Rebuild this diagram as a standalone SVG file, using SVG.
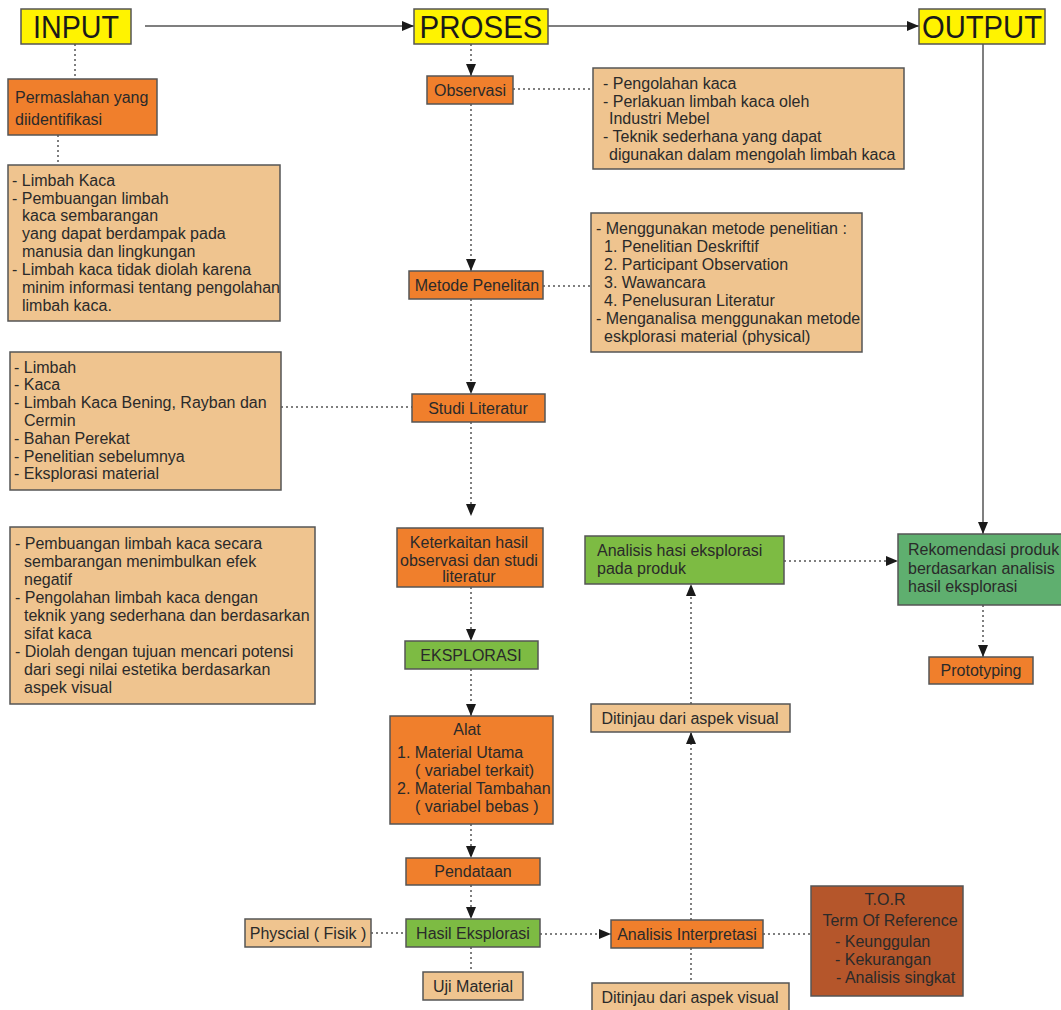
<svg xmlns="http://www.w3.org/2000/svg" width="1061" height="1010" viewBox="0 0 1061 1010">
<style>
  text { font-family: "Liberation Sans", Arial, sans-serif; font-size: 16px; fill: #2a2a2a; }
  .hdr { font-size: 32px; fill: #1a1a1a; }
  .bx { stroke: #555; stroke-width: 1.5; }
  .yel { fill: #FFF300; }
  .org { fill: #F07F2C; }
  .tan { fill: #EFC48F; }
  .grn { fill: #7DBB43; }
  .grn2 { fill: #5FAF6F; }
  .tor { fill: #B5562B; }
  .solid { stroke: #555; stroke-width: 1.5; fill: none; }
  .dot { stroke: #555; stroke-width: 1.5; fill: none; stroke-dasharray: 2 3; }
  .c { text-anchor: middle; }
</style>
<defs>
  <marker id="ah" markerUnits="userSpaceOnUse" markerWidth="12" markerHeight="10" refX="12" refY="5" orient="auto">
    <path d="M0,0 L12,5 L0,10 z" fill="#1a1a1a"/>
  </marker>
</defs>
<rect width="1061" height="1010" fill="#ffffff"/>

<g id="connectors">
  <path class="solid" d="M145,26 H414" marker-end="url(#ah)"/>
  <path class="solid" d="M548,26 H919" marker-end="url(#ah)"/>
  <path class="solid" d="M983,44 V534" marker-end="url(#ah)"/>
  <path class="dot" d="M75,44 V79"/>
  <path class="dot" d="M58,135 V165"/>
  <path class="dot" d="M471,44 V76" marker-end="url(#ah)"/>
  <path class="dot" d="M513,89 H593"/>
  <path class="dot" d="M471,104 V271" marker-end="url(#ah)"/>
  <path class="dot" d="M543,286 H591"/>
  <path class="dot" d="M471,299 V394" marker-end="url(#ah)"/>
  <path class="dot" d="M281,407 H412"/>
  <path class="dot" d="M471,422 V516" marker-end="url(#ah)"/>
  <path class="dot" d="M471,587 V641" marker-end="url(#ah)"/>
  <path class="dot" d="M471,669 V716" marker-end="url(#ah)"/>
  <path class="dot" d="M471,824 V858" marker-end="url(#ah)"/>
  <path class="dot" d="M471,885 V919" marker-end="url(#ah)"/>
  <path class="dot" d="M371,933 H406"/>
  <path class="dot" d="M471,947 V972"/>
  <path class="dot" d="M540,934 H611" marker-end="url(#ah)"/>
  <path class="dot" d="M763,934 H811"/>
  <path class="dot" d="M691,948 V983"/>
  <path class="dot" d="M691,920 V732" marker-end="url(#ah)"/>
  <path class="dot" d="M691,704 V584" marker-end="url(#ah)"/>
  <path class="dot" d="M784,561 H898" marker-end="url(#ah)"/>
  <path class="dot" d="M983,605 V657" marker-end="url(#ah)"/>
</g>

<g id="input">
  <rect class="bx yel" x="21" y="9" width="110" height="35"/>
  <text class="hdr c" x="76" y="38" textLength="86" lengthAdjust="spacingAndGlyphs">INPUT</text>
</g>
<g id="proses">
  <rect class="bx yel" x="414" y="9" width="134" height="35"/>
  <text class="hdr c" x="481" y="38" textLength="123" lengthAdjust="spacingAndGlyphs">PROSES</text>
</g>
<g id="output">
  <rect class="bx yel" x="919" y="9" width="126" height="35"/>
  <text class="hdr c" x="982" y="38" textLength="120" lengthAdjust="spacingAndGlyphs">OUTPUT</text>
</g>

<g id="permasalahan">
  <rect class="bx org" x="8" y="79" width="149" height="56"/>
  <text x="15" y="103">Permaslahan yang</text>
  <text x="15" y="125">diidentifikasi</text>
</g>

<g id="box-limbah-kaca">
  <rect class="bx tan" x="8" y="165" width="272" height="156"/>
  <text x="12" y="186">- Limbah Kaca</text>
  <text x="12" y="204">- Pembuangan limbah</text>
  <text x="22" y="221">kaca sembarangan</text>
  <text x="22" y="239">yang dapat berdampak pada</text>
  <text x="22" y="257">manusia dan lingkungan</text>
  <text x="12" y="275">- Limbah kaca tidak diolah karena</text>
  <text x="22" y="293">minim informasi tentang pengolahan</text>
  <text x="22" y="311">limbah kaca.</text>
</g>

<g id="box-literatur">
  <rect class="bx tan" x="10" y="352" width="271" height="138"/>
  <text x="14" y="373">- Limbah</text>
  <text x="14" y="390">- Kaca</text>
  <text x="14" y="408">- Limbah Kaca Bening, Rayban dan</text>
  <text x="24" y="426">Cermin</text>
  <text x="14" y="444">- Bahan Perekat</text>
  <text x="14" y="462">- Penelitian sebelumnya</text>
  <text x="14" y="479">- Eksplorasi material</text>
</g>

<g id="box-pembuangan">
  <rect class="bx tan" x="10" y="527" width="305" height="177"/>
  <text x="15" y="549">- Pembuangan limbah kaca secara</text>
  <text x="24" y="567">sembarangan menimbulkan efek</text>
  <text x="24" y="585">negatif</text>
  <text x="15" y="603">- Pengolahan limbah kaca dengan</text>
  <text x="24" y="621">teknik yang sederhana dan berdasarkan</text>
  <text x="24" y="639">sifat kaca</text>
  <text x="15" y="657">- Diolah dengan tujuan mencari potensi</text>
  <text x="24" y="675">dari segi nilai estetika berdasarkan</text>
  <text x="24" y="693">aspek visual</text>
</g>

<g id="observasi">
  <rect class="bx org" x="427" y="76" width="86" height="28"/>
  <text class="c" x="470" y="96">Observasi</text>
</g>

<g id="box-observasi">
  <rect class="bx tan" x="593" y="68" width="311" height="101"/>
  <text x="603" y="89">- Pengolahan kaca</text>
  <text x="603" y="107">- Perlakuan limbah kaca oleh</text>
  <text x="609" y="124">Industri Mebel</text>
  <text x="603" y="142">- Teknik sederhana yang dapat</text>
  <text x="609" y="160">digunakan dalam mengolah limbah kaca</text>
</g>

<g id="metode">
  <rect class="bx org" x="409" y="271" width="134" height="28"/>
  <text class="c" x="477" y="291">Metode Penelitan</text>
</g>

<g id="box-metode">
  <rect class="bx tan" x="591" y="213" width="271" height="139"/>
  <text x="596" y="234">- Menggunakan metode penelitian :</text>
  <text x="604" y="252">1. Penelitian Deskriftif</text>
  <text x="604" y="270">2. Participant Observation</text>
  <text x="604" y="288">3. Wawancara</text>
  <text x="604" y="306">4. Penelusuran Literatur</text>
  <text x="596" y="324">- Menganalisa menggunakan metode</text>
  <text x="604" y="342">eskplorasi material (physical)</text>
</g>

<g id="studi">
  <rect class="bx org" x="412" y="394" width="133" height="28"/>
  <text class="c" x="478" y="414">Studi Literatur</text>
</g>

<g id="keterkaitan">
  <rect class="bx org" x="397" y="528" width="146" height="59"/>
  <text class="c" x="469" y="548">Keterkaitan hasil</text>
  <text class="c" x="469" y="566">observasi dan studi</text>
  <text class="c" x="469" y="582">literatur</text>
</g>

<g id="eksplorasi">
  <rect class="bx grn" x="405" y="641" width="133" height="28"/>
  <text class="c" x="471" y="661">EKSPLORASI</text>
</g>

<g id="alat">
  <rect class="bx org" x="390" y="716" width="163" height="108"/>
  <text class="c" x="467" y="735">Alat</text>
  <text x="397" y="758">1. Material Utama</text>
  <text x="415" y="776">( variabel terkait)</text>
  <text x="397" y="794">2. Material Tambahan</text>
  <text x="415" y="812">( variabel bebas )</text>
</g>

<g id="pendataan">
  <rect class="bx org" x="406" y="858" width="134" height="27"/>
  <text class="c" x="473" y="877">Pendataan</text>
</g>

<g id="hasil-eksplorasi">
  <rect class="bx grn" x="406" y="919" width="134" height="28"/>
  <text class="c" x="473" y="939">Hasil Eksplorasi</text>
</g>

<g id="physcial">
  <rect class="bx tan" x="245" y="919" width="126" height="28"/>
  <text class="c" x="308" y="939">Physcial ( Fisik )</text>
</g>

<g id="uji-material">
  <rect class="bx tan" x="423" y="972" width="100" height="28"/>
  <text class="c" x="473" y="992">Uji Material</text>
</g>

<g id="analisis-interpretasi">
  <rect class="bx org" x="611" y="920" width="152" height="28"/>
  <text class="c" x="687" y="940">Analisis Interpretasi</text>
</g>

<g id="ditinjau-bawah">
  <rect class="bx tan" x="592" y="983" width="197" height="30"/>
  <text class="c" x="690" y="1003">Ditinjau dari aspek visual</text>
</g>

<g id="tor">
  <rect class="bx tor" x="811" y="886" width="152" height="110"/>
  <text class="c" x="885" y="905">T.O.R</text>
  <text class="c" x="890" y="926">Term Of Reference</text>
  <text x="835" y="947">- Keunggulan</text>
  <text x="835" y="965">- Kekurangan</text>
  <text x="836" y="983">- Analisis singkat</text>
</g>

<g id="ditinjau-atas">
  <rect class="bx tan" x="591" y="704" width="199" height="28"/>
  <text class="c" x="690" y="724">Ditinjau dari aspek visual</text>
</g>

<g id="analisis-hasil">
  <rect class="bx grn" x="585" y="536" width="199" height="48"/>
  <text x="597" y="556">Analisis hasi eksplorasi</text>
  <text x="597" y="574">pada produk</text>
</g>

<g id="rekomendasi">
  <rect class="bx grn2" x="898" y="534" width="170" height="71"/>
  <text x="908" y="555">Rekomendasi produk</text>
  <text x="908" y="574">berdasarkan analisis</text>
  <text x="908" y="592">hasil eksplorasi</text>
</g>

<g id="prototyping">
  <rect class="bx org" x="929" y="657" width="104" height="27"/>
  <text class="c" x="981" y="676">Prototyping</text>
</g>
</svg>
